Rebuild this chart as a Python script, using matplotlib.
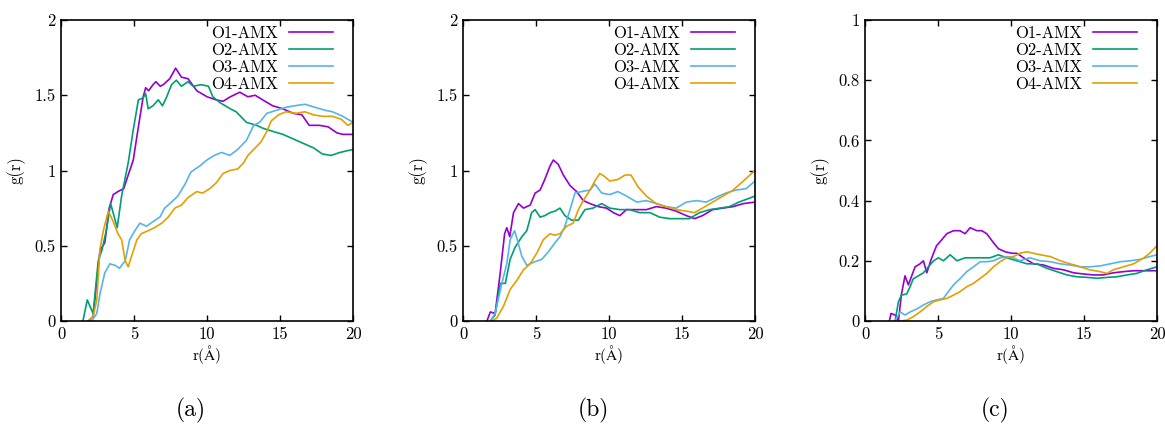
import matplotlib
matplotlib.use('Agg')  # no display
import matplotlib.pyplot as plt

plt.rcParams['font.family'] = 'serif'
plt.rcParams['font.serif'] = ['cmr10', 'DejaVu Serif']
plt.rcParams['mathtext.fontset'] = 'cm'
plt.rcParams['axes.formatter.use_mathtext'] = True

# gnuplot default line colours
COLORS = ['#9400D3', '#009E73', '#56B4E9', '#E69F00']
LABELS = ['O1-AMX', 'O2-AMX', 'O3-AMX', 'O4-AMX']

# ---- panel (a) ----
r_a_o1 = [1.87, 2.2, 2.67, 3.0, 3.3, 3.58, 3.9, 4.3, 4.5, 4.95, 5.3, 5.63, 5.8, 6.0, 6.3, 6.5, 6.8, 7.0,
          7.45, 7.85, 8.25, 8.7, 9.3, 10.0, 10.6, 11.1, 11.6, 12.25, 12.8, 13.3, 13.8, 14.5, 15.2, 15.9,
          16.5, 17.0, 17.7, 18.3, 18.9, 19.3, 20.0]
g_a_o1 = [0.0, 0.03, 0.47, 0.52, 0.75, 0.84, 0.86, 0.88, 0.94, 1.07, 1.29, 1.49, 1.55, 1.53, 1.57, 1.59,
          1.56, 1.57, 1.61, 1.68, 1.62, 1.61, 1.53, 1.49, 1.47, 1.46, 1.49, 1.52, 1.49, 1.50, 1.47, 1.43,
          1.41, 1.38, 1.37, 1.30, 1.30, 1.29, 1.25, 1.24, 1.24]
r_a_o2 = [1.5, 1.8, 2.2, 2.55, 2.8, 3.1, 3.4, 3.85, 4.15, 4.6, 4.95, 5.3, 5.6, 5.8, 5.97, 6.3, 6.66, 6.95,
          7.2, 7.57, 7.9, 8.25, 8.7, 9.05, 9.6, 10.1, 10.4, 10.9, 11.6, 12.0, 12.7, 13.4, 13.85, 14.5,
          15.2, 15.9, 16.6, 17.3, 17.9, 18.5, 19.1, 20.0]
g_a_o2 = [0.0, 0.14, 0.05, 0.4, 0.47, 0.6, 0.78, 0.62, 0.83, 1.05, 1.27, 1.47, 1.48, 1.51, 1.41, 1.43,
          1.47, 1.43, 1.48, 1.57, 1.60, 1.56, 1.59, 1.56, 1.57, 1.56, 1.49, 1.45, 1.41, 1.39, 1.32, 1.30,
          1.28, 1.26, 1.24, 1.21, 1.18, 1.15, 1.11, 1.10, 1.12, 1.14]
r_a_o3 = [2.1, 2.45, 2.67, 3.0, 3.35, 3.7, 4.0, 4.4, 4.7, 5.06, 5.4, 5.86, 6.3, 6.77, 7.1, 7.57, 8.0, 8.5,
          8.9, 9.5, 10.0, 10.5, 11.0, 11.56, 12.1, 12.7, 13.2, 13.6, 14.1, 14.75, 15.4, 16.0, 16.7, 17.4,
          18.1, 18.6, 19.3, 20.0]
g_a_o3 = [0.0, 0.05, 0.18, 0.32, 0.38, 0.37, 0.35, 0.40, 0.54, 0.60, 0.65, 0.63, 0.66, 0.69, 0.75, 0.79,
          0.83, 0.91, 0.99, 1.03, 1.07, 1.10, 1.12, 1.10, 1.14, 1.20, 1.30, 1.32, 1.38, 1.40, 1.42, 1.43,
          1.44, 1.42, 1.40, 1.39, 1.36, 1.32]
r_a_o4 = [1.9, 2.2, 2.45, 2.67, 2.9, 3.24, 3.58, 3.9, 4.15, 4.4, 4.6, 4.83, 5.2, 5.5, 5.97, 6.4, 6.9, 7.34,
          7.8, 8.25, 8.7, 9.3, 9.7, 10.2, 10.65, 11.1, 11.56, 12.1, 12.5, 12.8, 13.3, 13.7, 14.1, 14.4,
          14.9, 15.4, 16.1, 16.7, 17.3, 17.9, 18.6, 19.2, 19.65, 20.0]
g_a_o4 = [0.0, 0.03, 0.14, 0.48, 0.60, 0.73, 0.66, 0.58, 0.54, 0.40, 0.36, 0.43, 0.54, 0.58, 0.60, 0.62,
          0.65, 0.69, 0.75, 0.77, 0.82, 0.86, 0.85, 0.88, 0.92, 0.98, 1.00, 1.01, 1.05, 1.10, 1.15, 1.19,
          1.26, 1.33, 1.37, 1.39, 1.38, 1.39, 1.37, 1.36, 1.36, 1.34, 1.30, 1.32]

# ---- panel (b) ----
r_b_o1 = [1.64, 1.87, 2.2, 2.55, 2.85, 3.0, 3.2, 3.46, 3.8, 4.14, 4.6, 4.94, 5.28, 5.6, 5.96, 6.19, 6.53,
          6.87, 7.33, 7.78, 8.24, 8.7, 9.26, 9.83, 10.3, 10.74, 11.2, 11.9, 12.56, 13.24, 13.9, 14.6,
          15.3, 15.86, 16.4, 17.1, 17.8, 18.5, 19.2, 20.0]
g_b_o1 = [0.0, 0.06, 0.05, 0.32, 0.58, 0.62, 0.56, 0.72, 0.78, 0.75, 0.77, 0.85, 0.87, 0.94, 1.03, 1.07,
          1.04, 0.97, 0.90, 0.86, 0.80, 0.78, 0.76, 0.75, 0.72, 0.70, 0.74, 0.74, 0.74, 0.76, 0.75, 0.73,
          0.70, 0.68, 0.70, 0.74, 0.75, 0.76, 0.78, 0.79]
r_b_o2 = [1.87, 2.2, 2.55, 2.9, 3.23, 3.57, 4.03, 4.37, 4.7, 4.94, 5.28, 5.6, 5.96, 6.3, 6.64, 6.98, 7.44,
          7.9, 8.35, 8.9, 9.5, 10.06, 10.74, 11.4, 12.1, 12.8, 13.47, 14.15, 14.8, 15.5, 16.2, 16.9, 17.6,
          18.25, 18.9, 20.0]
g_b_o2 = [0.0, 0.04, 0.25, 0.25, 0.41, 0.49, 0.56, 0.60, 0.72, 0.74, 0.69, 0.70, 0.72, 0.73, 0.75, 0.70,
          0.67, 0.67, 0.74, 0.75, 0.78, 0.75, 0.74, 0.74, 0.72, 0.72, 0.69, 0.68, 0.68, 0.68, 0.72, 0.74,
          0.75, 0.76, 0.79, 0.83]
r_b_o3 = [1.87, 2.2, 2.66, 3.0, 3.23, 3.53, 3.69, 4.03, 4.37, 4.82, 5.4, 5.85, 6.3, 6.64, 6.98, 7.33, 7.67,
          8.12, 8.7, 9.03, 9.5, 10.06, 10.6, 11.2, 11.9, 12.56, 13.24, 13.9, 14.6, 15.3, 16.0, 16.66, 17.3,
          18.0, 18.7, 19.4, 20.0]
g_b_o3 = [0.0, 0.05, 0.25, 0.38, 0.54, 0.60, 0.55, 0.43, 0.37, 0.39, 0.41, 0.46, 0.52, 0.56, 0.63, 0.74,
          0.85, 0.86, 0.87, 0.91, 0.85, 0.84, 0.86, 0.83, 0.79, 0.80, 0.78, 0.76, 0.75, 0.79, 0.80, 0.79,
          0.82, 0.85, 0.87, 0.88, 0.93]
r_b_o4 = [1.98, 2.32, 2.78, 3.23, 3.69, 4.14, 4.6, 5.05, 5.5, 5.96, 6.3, 6.64, 7.1, 7.55, 7.9, 8.24, 8.7,
          9.03, 9.37, 9.7, 10.06, 10.6, 11.1, 11.5, 12.0, 12.56, 13.24, 13.9, 14.6, 15.3, 15.86, 16.4,
          17.1, 17.8, 18.5, 19.2, 20.0]
g_b_o4 = [0.0, 0.02, 0.10, 0.21, 0.27, 0.34, 0.38, 0.45, 0.54, 0.58, 0.57, 0.58, 0.63, 0.65, 0.74, 0.80,
          0.87, 0.93, 0.98, 0.96, 0.93, 0.94, 0.97, 0.97, 0.89, 0.83, 0.78, 0.76, 0.74, 0.73, 0.72, 0.75,
          0.79, 0.83, 0.87, 0.93, 1.00]

# ---- panel (c) ----
r_c_o1 = [1.67, 1.78, 2.06, 2.29, 2.5, 2.74, 2.97, 3.2, 3.43, 3.77, 4.0, 4.23, 4.57, 4.9, 5.26, 5.6, 6.06,
          6.5, 6.86, 7.2, 7.66, 8.0, 8.34, 8.8, 9.14, 9.6, 10.06, 10.4, 10.86, 11.54, 12.23, 12.9, 13.6,
          14.3, 15.0, 15.66, 16.3, 17.0, 17.7, 18.4, 19.3, 20.0]
g_c_o1 = [0.0, 0.025, 0.02, 0.0, 0.09, 0.15, 0.12, 0.15, 0.18, 0.19, 0.20, 0.16, 0.21, 0.25, 0.27, 0.29,
          0.30, 0.30, 0.29, 0.31, 0.30, 0.30, 0.29, 0.26, 0.24, 0.23, 0.225, 0.225, 0.21, 0.19, 0.186,
          0.175, 0.17, 0.16, 0.156, 0.153, 0.153, 0.16, 0.164, 0.167, 0.167, 0.167]
r_c_o2 = [2.06, 2.29, 2.5, 2.86, 3.09, 3.3, 3.66, 4.0, 4.34, 4.7, 5.03, 5.37, 5.83, 6.3, 6.86, 7.43, 8.0,
          8.57, 9.14, 9.7, 10.4, 11.1, 11.77, 12.46, 13.14, 13.83, 14.5, 15.2, 15.9, 16.6, 17.26, 17.94,
          18.6, 19.3, 20.0]
g_c_o2 = [0.0, 0.064, 0.086, 0.09, 0.114, 0.14, 0.15, 0.16, 0.18, 0.20, 0.21, 0.20, 0.22, 0.20, 0.21,
          0.21, 0.21, 0.21, 0.22, 0.21, 0.20, 0.19, 0.19, 0.175, 0.164, 0.153, 0.147, 0.145, 0.142, 0.145,
          0.147, 0.153, 0.158, 0.17, 0.18]
r_c_o3 = [2.06, 2.4, 2.74, 3.09, 3.54, 4.0, 4.46, 4.9, 5.37, 5.7, 6.06, 6.5, 6.97, 7.43, 7.9, 8.34, 8.8,
          9.26, 9.7, 10.17, 10.6, 11.3, 12.0, 12.7, 13.37, 14.06, 14.74, 15.4, 16.1, 16.8, 17.5, 18.17,
          18.86, 19.5, 20.0]
g_c_o3 = [0.0, 0.03, 0.02, 0.03, 0.04, 0.053, 0.064, 0.07, 0.075, 0.097, 0.12, 0.14, 0.164, 0.18, 0.197,
          0.197, 0.20, 0.21, 0.214, 0.21, 0.20, 0.21, 0.20, 0.197, 0.19, 0.186, 0.18, 0.18, 0.183, 0.19,
          0.197, 0.20, 0.205, 0.214, 0.22]
r_c_o4 = [2.4, 2.86, 3.3, 3.77, 4.23, 4.69, 5.14, 5.6, 6.06, 6.5, 6.97, 7.43, 7.9, 8.34, 8.8, 9.26, 9.7,
          10.17, 10.6, 11.09, 11.54, 12.0, 12.7, 13.37, 14.06, 14.74, 15.4, 16.1, 16.57, 17.0, 17.7, 18.4,
          19.1, 19.5, 20.0]
g_c_o4 = [0.0, 0.003, 0.014, 0.03, 0.048, 0.064, 0.07, 0.075, 0.086, 0.097, 0.114, 0.125, 0.142, 0.158,
          0.18, 0.197, 0.21, 0.214, 0.225, 0.23, 0.225, 0.22, 0.214, 0.20, 0.19, 0.18, 0.17, 0.164, 0.158,
          0.17, 0.18, 0.19, 0.21, 0.225, 0.25]

panels = [
    ('(a)', [(r_a_o1, g_a_o1), (r_a_o2, g_a_o2), (r_a_o3, g_a_o3), (r_a_o4, g_a_o4)],
     2.0, [0, 0.5, 1, 1.5, 2], ['0', '0.5', '1', '1.5', '2']),
    ('(b)', [(r_b_o1, g_b_o1), (r_b_o2, g_b_o2), (r_b_o3, g_b_o3), (r_b_o4, g_b_o4)],
     2.0, [0, 0.5, 1, 1.5, 2], ['0', '0.5', '1', '1.5', '2']),
    ('(c)', [(r_c_o1, g_c_o1), (r_c_o2, g_c_o2), (r_c_o3, g_c_o3), (r_c_o4, g_c_o4)],
     1.0, [0, 0.2, 0.4, 0.6, 0.8, 1], ['0', '0.2', '0.4', '0.6', '0.8', '1']),
]

fig = plt.figure(figsize=(11.65, 4.38), dpi=100)
lefts = [61, 463, 865]

for (tag, series, ymax, yticks, yticklabels), left in zip(panels, lefts):
    ax = fig.add_axes([left / 1165, 1 - 321 / 438, 292 / 1165, 301 / 438])
    for (r, g), c, lab in zip(series, COLORS, LABELS):
        ax.plot(r, g, color=c, lw=1.2, label=lab)
    ax.set_xlim(0, 20)
    ax.set_ylim(0, ymax)
    ax.set_xticks([0, 5, 10, 15, 20])
    ax.set_xticklabels(['0', '5', '10', '15', '20'])
    ax.set_yticks(yticks)
    ax.set_yticklabels(yticklabels)
    ax.tick_params(direction='in', top=True, right=True, labelsize=12, length=4, width=1, pad=4)
    for s in ax.spines.values():
        s.set_linewidth(1.2)
    ax.set_xlabel(r'r($\mathrm{\AA}$)', fontsize=11, labelpad=1)
    ax.set_ylabel('g(r)', fontsize=12, labelpad=6)
    ax.legend(loc='upper right', bbox_to_anchor=(0.932, 0.98), frameon=False, markerfirst=False,
              fontsize=12, handlelength=2.65, handletextpad=0.65, labelspacing=0.1, borderpad=0.0,
              borderaxespad=0.0)
    fig.text((left + 130) / 1165, 1 - 410 / 438, tag, fontsize=17, ha='center', va='center')

plt.savefig('out.png', dpi=100)
